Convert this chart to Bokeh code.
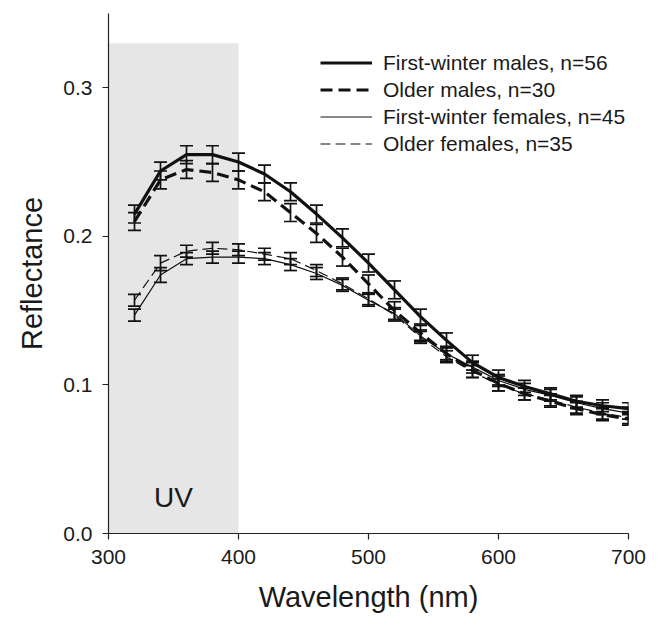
from bokeh.plotting import figure
from bokeh.models import (ColumnDataSource, Whisker, TeeHead, Legend, LegendItem,
                          FixedTicker, Range1d, Label)
from bokeh.embed import file_html
from bokeh.resources import INLINE

# ---- data ----
wavelength = [320, 340, 360, 380, 400, 420, 440, 460, 480, 500,
              520, 540, 560, 580, 600, 620, 640, 660, 680, 700]

fw_males = [0.215, 0.244, 0.255, 0.255, 0.250, 0.242, 0.230, 0.215, 0.199, 0.182,
            0.164, 0.146, 0.130, 0.115, 0.105, 0.099, 0.094, 0.089, 0.086, 0.084]
old_males = [0.210, 0.238, 0.245, 0.243, 0.238, 0.230, 0.216, 0.202, 0.186, 0.168,
             0.150, 0.135, 0.121, 0.110, 0.101, 0.094, 0.089, 0.084, 0.080, 0.077]
fw_females = [0.147, 0.174, 0.185, 0.186, 0.186, 0.185, 0.181, 0.175, 0.167, 0.157,
              0.148, 0.133, 0.121, 0.112, 0.103, 0.097, 0.093, 0.088, 0.084, 0.081]
old_females = [0.157, 0.182, 0.190, 0.192, 0.191, 0.188, 0.185, 0.177, 0.168, 0.158,
               0.147, 0.132, 0.119, 0.109, 0.100, 0.094, 0.090, 0.085, 0.081, 0.078]

fw_males_se = [0.006, 0.006, 0.006, 0.006, 0.006, 0.006, 0.006, 0.006, 0.006, 0.006,
               0.006, 0.005, 0.005, 0.005, 0.005, 0.004, 0.004, 0.004, 0.004, 0.004]
old_males_se = [0.006, 0.006, 0.006, 0.006, 0.006, 0.006, 0.006, 0.006, 0.006, 0.006,
                0.006, 0.005, 0.005, 0.005, 0.005, 0.004, 0.004, 0.004, 0.004, 0.004]
fw_females_se = [0.004, 0.005, 0.004, 0.004, 0.004, 0.004, 0.004, 0.004, 0.004, 0.004,
                 0.004, 0.004, 0.004, 0.004, 0.004, 0.004, 0.004, 0.004, 0.004, 0.004]
old_females_se = [0.004, 0.005, 0.004, 0.004, 0.004, 0.004, 0.004, 0.004, 0.004, 0.004,
                  0.004, 0.004, 0.004, 0.004, 0.004, 0.004, 0.004, 0.004, 0.004, 0.004]

series_labels = ["First-winter males, n=56", "Older males, n=30",
                 "First-winter females, n=45", "Older females, n=35"]

uv_band = (300, 400)
uv_top = 0.33

x_ticks = [300, 400, 500, 600, 700]
y_ticks = [0.0, 0.1, 0.2, 0.3]
y_tick_labels = ["0.0", "0.1", "0.2", "0.3"]

FONT = "Liberation Sans"

p = figure(width=651, height=617, output_backend="svg", toolbar_location=None,
           x_range=Range1d(300, 700), y_range=Range1d(0, 0.35),
           min_border_left=108, min_border_top=13, min_border_right=23, min_border_bottom=84,
           frame_width=520, frame_height=520)
p.outline_line_color = None
p.grid.visible = False
p.background_fill_color = "white"
p.border_fill_color = "white"

# UV band
band = p.quad(left=[uv_band[0]], right=[uv_band[1]], bottom=[0], top=[uv_top],
              fill_color="#e6e6e6", line_color=None)
band.level = "underlay"
p.add_layout(Label(x=350, y=0.024, text="UV", text_align="center",
                   text_baseline="alphabetic", text_font=FONT,
                   text_font_size="28px", text_color="#1a1a1a"))

styles = [
    (fw_males, fw_males_se, 3.2, "solid"),
    (old_males, old_males_se, 3.2, "12 6"),
    (fw_females, fw_females_se, 1.2, "solid"),
    (old_females, old_females_se, 1.2, "10 5"),
]

items = []
for (vals, se, lw, dash), lab in zip(styles, series_labels):
    src = ColumnDataSource(dict(
        x=wavelength, y=vals,
        lo=[v - s for v, s in zip(vals, se)],
        hi=[v + s for v, s in zip(vals, se)]))
    w = Whisker(source=src, base="x", lower="lo", upper="hi",
                line_color="#111111", line_width=1.7, level="annotation",
                upper_head=TeeHead(size=13, line_color="#111111", line_width=1.7),
                lower_head=TeeHead(size=13, line_color="#111111", line_width=1.7))
    p.add_layout(w)
    r = p.line("x", "y", source=src, line_color="#111111", line_width=lw,
               line_dash=dash)
    items.append(LegendItem(label=lab, renderers=[r]))

legend = Legend(items=items, location=(212, 376), orientation="vertical",
                margin=0, padding=0, spacing=0, glyph_width=52, glyph_height=27,
                label_height=27, label_standoff=11,
                label_text_font=FONT, label_text_font_size="21px",
                label_text_color="#1a1a1a",
                border_line_alpha=0, background_fill_alpha=0)
p.add_layout(legend, "center")

# axes
for ax in (p.xaxis, p.yaxis):
    ax.axis_line_color = "#222222"
    ax.axis_line_width = 1.2
    ax.major_tick_line_color = "#222222"
    ax.major_tick_line_width = 1.2
    ax.major_tick_out = 6
    ax.major_tick_in = 0
    ax.minor_tick_line_color = None
    ax.major_label_text_font = FONT
    ax.major_label_text_font_size = "21px"
    ax.major_label_text_color = "#1a1a1a"
    ax.axis_label_text_font = FONT
    ax.axis_label_text_font_size = "29px"
    ax.axis_label_text_font_style = "normal"
    ax.axis_label_text_color = "#1a1a1a"

p.xaxis.ticker = FixedTicker(ticks=x_ticks)
p.yaxis.ticker = FixedTicker(ticks=y_ticks)
p.yaxis.major_label_overrides = {t: s for t, s in zip(y_ticks, y_tick_labels)}
p.xaxis.axis_label = "Wavelength (nm)"
p.yaxis.axis_label = "Reflectance"
p.xaxis.major_label_standoff = 10
p.yaxis.major_label_standoff = 10
p.xaxis.axis_label_standoff = 14
p.yaxis.axis_label_standoff = 12

open("out.html", "w").write(file_html(p, INLINE))
